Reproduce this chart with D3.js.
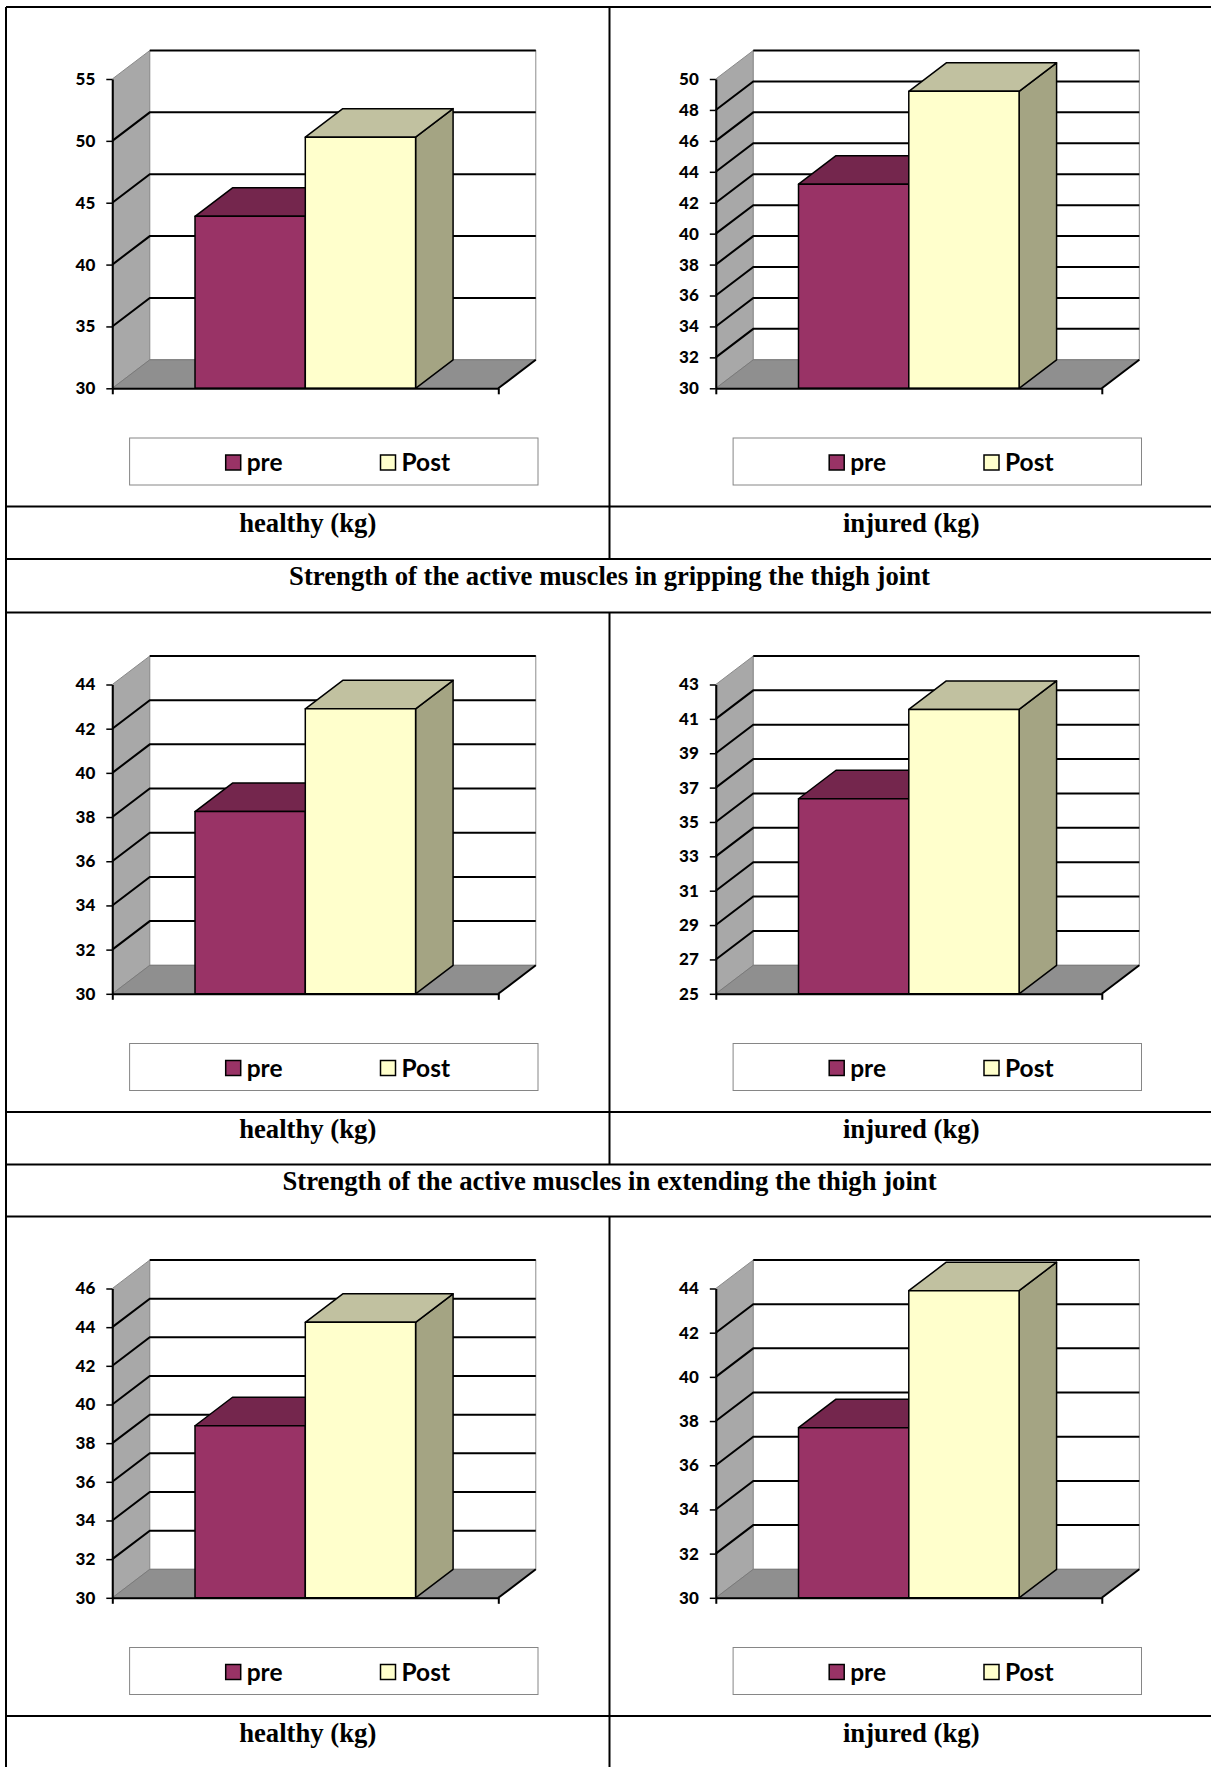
<!DOCTYPE html>
<html lang="en">
<head>
    <meta charset="UTF-8">
    <title>Strength pre / post</title>
    <script src="https://d3js.org/d3.v7.min.js"></script>
    <style>
        body {
            margin: 0;
            background: #fff;
        }

        .tick text {
            font-family: Lato, "Open Sans", sans-serif;
            font-weight: 900;
            font-size: 17px;
            fill: #000;
        }

        .legend text {
            font-family: Lato, "Open Sans", sans-serif;
            font-weight: bold;
            font-size: 24.5px;
        }

        .cap {
            font-family: "Liberation Serif", "Times New Roman", serif;
            font-weight: bold;
            font-size: 26.7px;
        }
    </style>
</head>
<body>
<script>

    var width = 1211,
        height = 1767;

    // panel data, read left to right, top to bottom
    var columnLabels = ["healthy (kg)", "injured (kg)"];
    var rowTitles = ["Strength of the active muscles in gripping the thigh joint",
                     "Strength of the active muscles in extending the thigh joint"];
    var series = ["pre", "Post"];
    var preValues = [43.9, 43.2, 38.25, 36.35, 38.9, 37.7];
    var postValues = [50.3, 49.2, 42.9, 41.55, 44.25, 43.9];
    var axisMin = [30, 30, 30, 25, 30, 30];
    var axisMax = [55, 50, 44, 43, 46, 44];
    var axisStep = [5, 2, 2, 2, 2, 2];

    var colors = {
        pre:  {front: "#993366", top: "#74264d", side: "#73264d"},
        Post: {front: "#ffffcc", top: "#c1c1a0", side: "#a4a483"}
    };

    // table geometry
    var tableLeft = 6, tableRight = 1213, divider = 609.5;
    var rowTops = [7, 612.5, 1216.5];
    var chartH = 499.5, labelH = 52.5, titleH = 53.5;
    var colLefts = [tableLeft, divider];

    // 3d offsets
    var dx = 37.5, dy = 28.5;

    var svg = d3.select("body").append("svg")
        .attr("width", width)
        .attr("height", height);

    var lines = svg.append("g");

    function hline(y, x1, x2) {
        lines.append("line").attr("x1", x1).attr("x2", x2).attr("y1", y).attr("y2", y)
            .attr("stroke", "#000").attr("stroke-width", 2);
    }

    function vline(x, y1, y2) {
        lines.append("line").attr("x1", x).attr("x2", x).attr("y1", y1).attr("y2", y2)
            .attr("stroke", "#000").attr("stroke-width", 2);
    }

    rowTops.forEach(function(top, r) {
        var labelTop = top + chartH,
            titleTop = labelTop + labelH;
        hline(top, tableLeft, tableRight);
        hline(labelTop, tableLeft, tableRight);
        vline(divider, top, titleTop);

        columnLabels.forEach(function(lab, c) {
            var x0 = colLefts[c], x1 = c == 0 ? divider : tableRight;
            svg.append("text")
                .attr("class", "cap")
                .attr("x", (x0 + x1) / 2)
                .attr("y", labelTop + 25.5)
                .attr("text-anchor", "middle")
                .text(lab);
            drawChart(r * 2 + c, x0, top);
        });

        if (r < rowTitles.length) {
            hline(titleTop, tableLeft, tableRight);
            svg.append("text")
                .attr("class", "cap")
                .attr("x", (tableLeft + tableRight) / 2)
                .attr("y", titleTop + 25.5)
                .attr("text-anchor", "middle")
                .text(rowTitles[r]);
        }
    });
    vline(tableLeft, rowTops[0], height + 2);
    hline(height + 1, tableLeft, tableRight);

    function pts(a) {
        return a.map(function(p) { return p.join(","); }).join(" ");
    }

    function drawChart(i, cx, cy) {
        var g = svg.append("g");
        var x0 = cx + 106.3, frontW = 386;
        var yTop = cy + 72, yBottom = cy + 381.3;

        var y = d3.scaleLinear()
            .domain([axisMin[i], axisMax[i]])
            .range([yBottom, yTop]);

        var x = d3.scaleBand()
            .domain(series)
            .range([x0, x0 + frontW])
            .paddingInner(0)
            .paddingOuter(0.75);

        var ticks = d3.range(axisMin[i], axisMax[i] + axisStep[i] / 2, axisStep[i]);
        var x1 = x0 + frontW;

        // side wall
        g.append("polygon")
            .attr("points", pts([[x0, yTop], [x0 + dx, yTop - dy], [x0 + dx, yBottom - dy], [x0, yBottom]]))
            .attr("fill", "#a8a8a8")
            .attr("stroke", "#8a8a8a");

        // back wall
        g.append("rect")
            .attr("x", x0 + dx).attr("y", yTop - dy)
            .attr("width", frontW).attr("height", yBottom - yTop)
            .attr("fill", "#fff")
            .attr("stroke", "#8c8c8c");

        // floor
        g.append("polygon")
            .attr("points", pts([[x0, yBottom], [x1, yBottom], [x1 + dx, yBottom - dy], [x0 + dx, yBottom - dy]]))
            .attr("fill", "#8f8f8f")
            .attr("stroke", "#7a7a7a");

        // gridlines, bent round the side wall
        ticks.slice(1).forEach(function(v) {
            var yy = y(v);
            var path = v < axisMax[i]
                ? [[x0, yy], [x0 + dx, yy - dy], [x1 + dx, yy - dy]]
                : [[x0 + dx, yy - dy], [x1 + dx, yy - dy]];
            g.append("polyline")
                .attr("points", pts(path))
                .attr("fill", "none")
                .attr("stroke", "#000")
                .attr("stroke-width", 2);
        });

        g.append("line")
            .attr("x1", x1).attr("y1", yBottom)
            .attr("x2", x1 + dx).attr("y2", yBottom - dy)
            .attr("stroke", "#000").attr("stroke-width", 2);

        // bars
        var vals = [preValues[i], postValues[i]];
        var bw = x.bandwidth();
        series.forEach(function(s, k) {
            var bx = x(s), by = y(vals[k]);
            var bar = g.append("g")
                .attr("stroke", "#000")
                .attr("stroke-width", 1.5)
                .attr("stroke-linejoin", "round");
            bar.append("polygon")
                .attr("points", pts([[bx + bw, by], [bx + bw + dx, by - dy], [bx + bw + dx, yBottom - dy], [bx + bw, yBottom]]))
                .attr("fill", colors[s].side);
            bar.append("polygon")
                .attr("points", pts([[bx, by], [bx + dx, by - dy], [bx + bw + dx, by - dy], [bx + bw, by]]))
                .attr("fill", colors[s].top);
            bar.append("rect")
                .attr("x", bx).attr("y", by)
                .attr("width", bw).attr("height", yBottom - by)
                .attr("fill", colors[s].front);
        });

        // axes
        var xAxis = d3.axisBottom(d3.scaleLinear().range([x0, x1]))
            .tickValues([0, 1])
            .tickFormat("")
            .tickSize(6)
            .tickSizeOuter(0);
        g.append("g")
            .attr("transform", "translate(0," + yBottom + ")")
            .call(xAxis)
            .call(function(a) { a.selectAll("path, line").attr("stroke", "#000").attr("stroke-width", 2); });

        var yAxis = d3.axisLeft(y)
            .tickValues(ticks)
            .tickSize(6)
            .tickSizeOuter(0)
            .tickPadding(11);
        g.append("g")
            .attr("transform", "translate(" + x0 + ",0)")
            .call(yAxis)
            .call(function(a) {
                a.select(".domain").attr("stroke", "#000").attr("stroke-width", 2);
                a.selectAll(".tick line").attr("stroke", "#000").attr("stroke-width", 1.5);
                a.attr("font-family", null).attr("font-size", null);
            });

        // legend
        var leg = g.append("g").attr("class", "legend");
        leg.append("rect")
            .attr("x", cx + 123.6).attr("y", cy + 431)
            .attr("width", 408.4).attr("height", 47)
            .attr("fill", "#fff")
            .attr("stroke", "#868686");
        var legX = [219.7, 374.5];
        series.forEach(function(s, k) {
            leg.append("rect")
                .attr("x", cx + legX[k]).attr("y", cy + 448)
                .attr("width", 15).attr("height", 15)
                .attr("fill", colors[s].front)
                .attr("stroke", "#000")
                .attr("stroke-width", 1.5);
            leg.append("text")
                .attr("x", cx + legX[k] + 21)
                .attr("y", cy + 464)
                .text(s);
        });
    }

</script>
</body>
</html>
